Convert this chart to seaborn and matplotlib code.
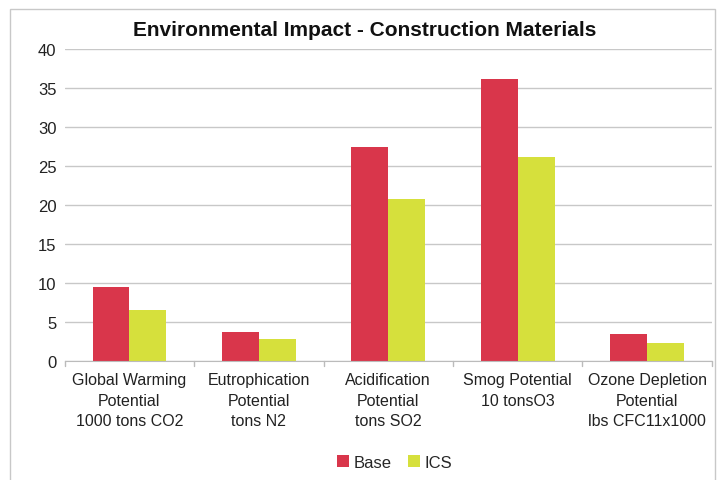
import pandas as pd
import matplotlib.pyplot as plt
import seaborn as sns
from matplotlib.patches import Rectangle

# chart data
categories = ['Global Warming\nPotential\n1000 tons CO2',
              'Eutrophication\nPotential\ntons N2',
              'Acidification\nPotential\ntons SO2',
              'Smog Potential\n10 tonsO3',
              'Ozone Depletion\nPotential\nlbs CFC11x1000']
base_vals = [9.5, 3.8, 27.5, 36.2, 3.5]
ics_vals = [6.5, 2.9, 20.8, 26.2, 2.3]
series = ['Base', 'ICS']

df = pd.DataFrame({
    'Category': categories * 2,
    'Series': ['Base'] * len(categories) + ['ICS'] * len(categories),
    'Value': base_vals + ics_vals,
})

sns.set_style('white')
plt.rcParams['font.family'] = ['Liberation Sans', 'DejaVu Sans']

fig = plt.figure(figsize=(7.19, 4.81), dpi=100)
ax = fig.add_axes([0.090, 0.247, 0.900, 0.649])

sns.barplot(data=df, x='Category', y='Value', hue='Series', hue_order=series,
            palette=['#D9364B', '#D6E03C'], width=0.57, saturation=1,
            linewidth=0, ax=ax)

ax.set_ylim(0, 40)
ax.set_yticks(range(0, 41, 5))
ax.set_xlim(-0.5, 4.5)
ax.yaxis.grid(True, color='#C8C8C8', linewidth=1)
ax.set_axisbelow(True)
for s in ['top', 'right', 'left']:
    ax.spines[s].set_visible(False)
ax.spines['bottom'].set_color('#BBBBBB')
ax.set_xlabel('')
ax.set_ylabel('')
ax.tick_params(axis='y', labelsize=12, length=0, pad=6, colors='#222222')
ax.tick_params(axis='x', labelsize=11.5, length=0, pad=8, colors='#222222')
for lbl in ax.get_xticklabels():
    lbl.set_linespacing(1.45)
# category separators
for xs in [-0.5, 0.5, 1.5, 2.5, 3.5, 4.5]:
    ax.plot([xs, xs], [0, -0.6], color='#BBBBBB', lw=1, clip_on=False)

ax.legend(loc='center', bbox_to_anchor=(0.51, -0.325), ncol=2, frameon=False,
          fontsize=12, handlelength=0.7, handleheight=0.7, handletextpad=0.3,
          columnspacing=1.0)

fig.text(0.507, 0.937, 'Environmental Impact - Construction Materials',
         ha='center', va='center', fontsize=15, fontweight='bold', color='#111111')

fig.patches.append(Rectangle((0.014, -0.02), 0.98, 1.0, transform=fig.transFigure,
                             fill=False, edgecolor='#C8C8C8', lw=1))

fig.savefig('out.png', dpi=100)
